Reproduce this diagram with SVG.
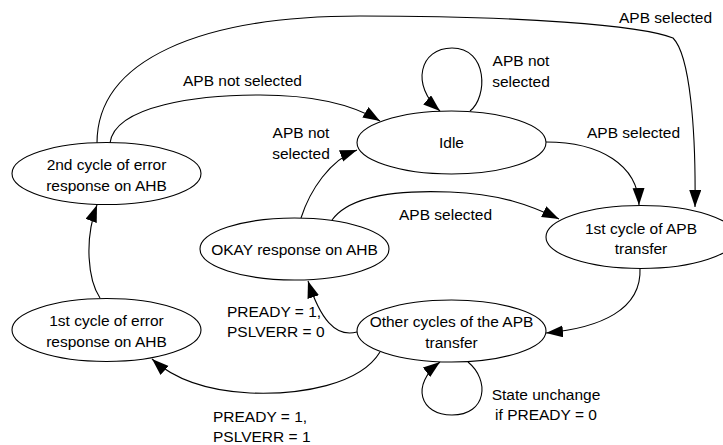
<svg xmlns="http://www.w3.org/2000/svg" width="723" height="445" viewBox="0 0 723 445">
<defs>
<marker id="arr" markerUnits="userSpaceOnUse" markerWidth="18" markerHeight="13" refX="17" refY="6" orient="auto">
<path d="M0,0 L17,6 L0,12 z" fill="#000"/>
</marker>
<style>
.node ellipse{fill:#fff;stroke:#000;stroke-width:1.1}
text{font-family:"Liberation Sans",Arial,sans-serif;font-size:15.5px;fill:#000}
.node text{text-anchor:middle}
.mid{text-anchor:middle}
#connectors path{fill:none;stroke:#000;stroke-width:1.1}
</style>
</defs>
<rect width="723" height="445" fill="#fff"/>
<g id="connectors">
<path d="M97,143 C97,60 200,16 360,16 C520,16 640,25 673,38 C690,55 696,130 695,207" marker-end="url(#arr)"/>
<path d="M110,143 C115,105 200,95 260,95 C310,95 350,103 380,121" marker-end="url(#arr)"/>
<path d="M470,111 C488,97 488,48 452,48 C420,48 410,85 440,111" marker-end="url(#arr)"/>
<path d="M546,142 C600,142 638,165 639,205" marker-end="url(#arr)"/>
<path d="M301,218 C310,190 330,160 357,150" marker-end="url(#arr)"/>
<path d="M332,220 C350,195 400,190 450,192 C500,194 530,205 559,219" marker-end="url(#arr)"/>
<path d="M640,268 C642,310 600,328 546,333" marker-end="url(#arr)"/>
<path d="M357,332 C335,338 320,318 308,281" marker-end="url(#arr)"/>
<path d="M380,352 C360,385 300,395 250,393 C210,391 175,380 152,359" marker-end="url(#arr)"/>
<path d="M468,362 C490,380 487,415 452,415 C420,415 410,385 440,362" marker-end="url(#arr)"/>
<path d="M100,298 C88,280 84,240 97,205" marker-end="url(#arr)"/>
</g>
<g id="idle" class="node">
<ellipse cx="451.5" cy="142.5" rx="94.5" ry="31.5"/>
<text x="451.5" y="148">Idle</text>
</g>
<g id="err2" class="node">
<ellipse cx="106.5" cy="173.5" rx="94.5" ry="31"/>
<text x="106.5" y="170">2nd cycle of error</text>
<text x="106.5" y="190.5">response on AHB</text>
</g>
<g id="okay" class="node">
<ellipse cx="294.5" cy="249" rx="94.5" ry="31"/>
<text x="294.5" y="254.5">OKAY response on AHB</text>
</g>
<g id="apb1" class="node">
<ellipse cx="641" cy="237" rx="95" ry="31.5"/>
<text x="641" y="233.5">1st cycle of APB</text>
<text x="641" y="253.5">transfer</text>
</g>
<g id="other" class="node">
<ellipse cx="451.5" cy="331" rx="94.5" ry="31"/>
<text x="451.5" y="327">Other cycles of the APB</text>
<text x="451.5" y="347.5">transfer</text>
</g>
<g id="err1" class="node">
<ellipse cx="106.5" cy="330" rx="94.5" ry="31.5"/>
<text x="106.5" y="326">1st cycle of error</text>
<text x="106.5" y="347">response on AHB</text>
</g>
<g id="labels">
<text x="619" y="23">APB selected</text>
<text x="183" y="86">APB not selected</text>
<text class="mid" x="521" y="66">APB not</text>
<text class="mid" x="521" y="87">selected</text>
<text class="mid" x="301" y="138">APB not</text>
<text class="mid" x="301" y="159">selected</text>
<text x="587" y="138">APB selected</text>
<text x="399" y="220">APB selected</text>
<text x="227" y="317">PREADY = 1,</text>
<text x="227" y="337">PSLVERR = 0</text>
<text x="213" y="422">PREADY = 1,</text>
<text x="213" y="442">PSLVERR = 1</text>
<text class="mid" x="546" y="400">State unchange</text>
<text class="mid" x="546" y="420">if PREADY = 0</text>
</g>
</svg>
